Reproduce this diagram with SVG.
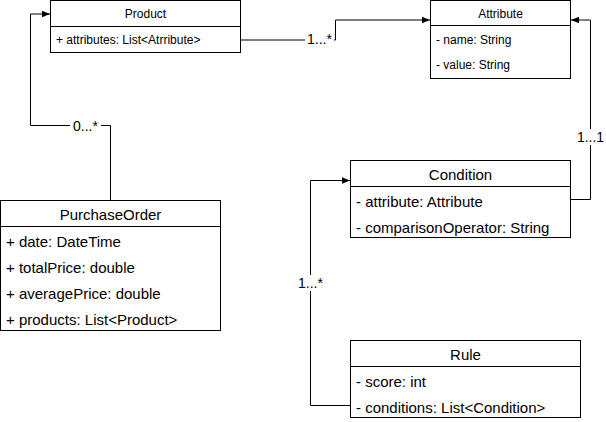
<svg xmlns="http://www.w3.org/2000/svg" width="606" height="422" viewBox="0 0 606 422">
<style>
.box{fill:#fff;stroke:#000;stroke-width:1}
.sep{stroke:#000;stroke-width:1}
.t12{font-family:"Liberation Sans",Arial,sans-serif;font-size:12px;fill:#000;dominant-baseline:central}
.t15{font-family:"Liberation Sans",Arial,sans-serif;font-size:15px;fill:#000;dominant-baseline:central}
.mid{text-anchor:middle}
.edge{fill:none;stroke:#000;stroke-width:1}
.lbl{font-family:"Liberation Sans",Arial,sans-serif;font-size:14px;fill:#000;text-anchor:middle;dominant-baseline:central}
.lblbg{fill:#fff}
</style>
<defs>
<marker id="arr" viewBox="0 0 10 10" refX="10" refY="5" markerWidth="8" markerHeight="8" markerUnits="userSpaceOnUse" orient="auto">
<path d="M0,1 L10,5 L0,9 Z" fill="#000"/>
</marker>
</defs>
<g id="connectors">
<path class="edge" d="M240.5,40 L335.5,40 L335.5,20 L430,20" marker-end="url(#arr)"/>
<path class="edge" d="M110.5,200 L110.5,125.5 L30.5,125.5 L30.5,14 L50,14" marker-end="url(#arr)"/>
<path class="edge" d="M570,199.5 L590.5,199.5 L590.5,20 L571,20" marker-end="url(#arr)"/>
<path class="edge" d="M350,405.5 L310.5,405.5 L310.5,180.5 L350,180.5" marker-end="url(#arr)"/>
<rect class="lblbg" x="305" y="31" width="29" height="16"/>
<text class="lbl" x="319.5" y="38.5">1...*</text>
<rect class="lblbg" x="70" y="118" width="31" height="16"/>
<text class="lbl" x="85.5" y="125.5">0...*</text>
<rect class="lblbg" x="575" y="129" width="31" height="16"/>
<text class="lbl" x="590.5" y="136.5">1...1</text>
<rect class="lblbg" x="296" y="275" width="29" height="16"/>
<text class="lbl" x="310.5" y="282.5">1...*</text>
</g>
<g id="product">
<rect class="box" x="50.5" y="0.5" width="190" height="52"/>
<line class="sep" x1="50.5" y1="26.5" x2="240.5" y2="26.5"/>
<text class="t12 mid" x="145.5" y="14">Product</text>
<text class="t12" x="56" y="40">+ attributes: List&lt;Atrribute&gt;</text>
</g>
<g id="attribute">
<rect class="box" x="430.5" y="0.5" width="140" height="78"/>
<line class="sep" x1="430.5" y1="25.5" x2="570.5" y2="25.5"/>
<text class="t12 mid" x="500.5" y="14">Attribute</text>
<text class="t12" x="436" y="40">- name: String</text>
<text class="t12" x="436" y="65">- value: String</text>
</g>
<g id="condition">
<rect class="box" x="350.5" y="160.5" width="220" height="77"/>
<line class="sep" x1="350.5" y1="186.5" x2="570.5" y2="186.5"/>
<text class="t15 mid" x="460.5" y="174">Condition</text>
<text class="t15" x="356" y="201">- attribute: Attribute</text>
<text class="t15" x="356" y="227">- comparisonOperator: String</text>
</g>
<g id="rule">
<rect class="box" x="350.5" y="340.5" width="230" height="77"/>
<line class="sep" x1="350.5" y1="366.5" x2="580.5" y2="366.5"/>
<text class="t15 mid" x="465.5" y="354">Rule</text>
<text class="t15" x="356" y="381">- score: int</text>
<text class="t15" x="356" y="407">- conditions: List&lt;Condition&gt;</text>
</g>
<g id="purchaseorder">
<rect class="box" x="0.5" y="200.5" width="220" height="130"/>
<line class="sep" x1="0.5" y1="226.5" x2="220.5" y2="226.5"/>
<text class="t15 mid" x="110.5" y="214">PurchaseOrder</text>
<text class="t15" x="6" y="241">+ date: DateTime</text>
<text class="t15" x="6" y="267">+ totalPrice: double</text>
<text class="t15" x="6" y="293">+ averagePrice: double</text>
<text class="t15" x="6" y="319">+ products: List&lt;Product&gt;</text>
</g>
</svg>
